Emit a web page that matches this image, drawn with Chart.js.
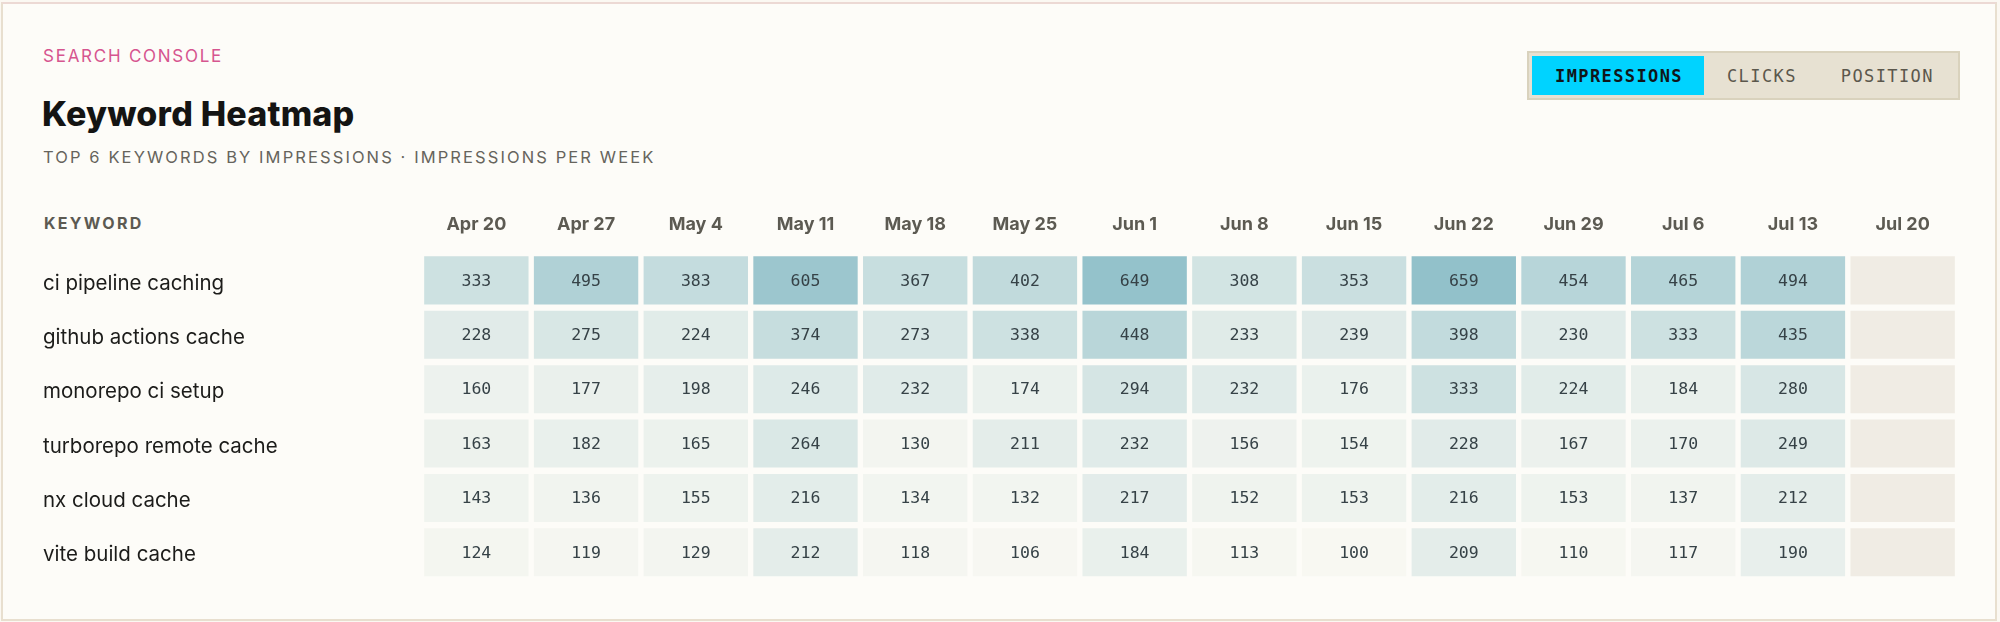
<!DOCTYPE html>
<html>
<head>
<meta charset="utf-8">
<script src="https://cdn.jsdelivr.net/npm/chart.js@4.4.1/dist/chart.umd.min.js"></script>
<style>
    html, body {
        margin: 0;
        padding: 0;
        width: 2000px;
        height: 622px;
        background: #fbf8f2;
        overflow: hidden;
        font-family: Inter, 'Noto Sans', sans-serif;
    }
    .card {
        position: absolute;
        left: 1px;
        top: 2px;
        width: 1996px;
        height: 619px;
        box-sizing: border-box;
        background: #fdfcf8;
        border: 2px solid #e8dfcf;
        border-top-color: #ecd9d4;
    }
    /* children below are placed in page coords minus the card offset (3, 4) */
    .eyebrow {
        position: absolute;
        left: 40px;
        top: 44px;
        font-size: 17px;
        line-height: 17px;
        letter-spacing: 1.75px;
        color: #d6558f;
    }
    .title {
        position: absolute;
        left: 39px;
        top: 93px;
        font-size: 34px;
        line-height: 34px;
        font-weight: 800;
        letter-spacing: 0.2px;
        color: #141413;
    }
    .subtitle {
        position: absolute;
        left: 40px;
        top: 145px;
        font-size: 16.5px;
        line-height: 16.5px;
        letter-spacing: 2.1px;
        color: #66645c;
    }
    .col-head {
        position: absolute;
        left: 41px;
        top: 211px;
        font-size: 16px;
        line-height: 16px;
        font-weight: 700;
        letter-spacing: 2.3px;
        color: #5c5a52;
    }
    .toggle {
        position: absolute;
        left: 1524px;
        top: 47px;
        height: 49px;
        box-sizing: border-box;
        padding: 3px;
        display: flex;
        background: #e7e1d2;
        border: 2px solid #d9d2bd;
    }
    .toggle span {
        display: flex;
        align-items: center;
        height: 39px;
        padding: 0 21px 0 23px;
        font-family: 'DejaVu Sans Mono', monospace;
        font-size: 17px;
        letter-spacing: 1.4px;
        color: #5b574c;
    }
    .toggle span.active {
        background: #00d3ff;
        color: #10161a;
        font-weight: 700;
    }
    .chart-box {
        position: absolute;
        left: 0;
        top: 190px;
        width: 2000px;
        height: 400px;
    }
</style>
</head>
<body>
<div class="card">
    <div class="eyebrow">SEARCH CONSOLE</div>
    <div class="title">Keyword Heatmap</div>
    <div class="subtitle">TOP 6 KEYWORDS BY IMPRESSIONS · IMPRESSIONS PER WEEK</div>
    <div class="col-head">KEYWORD</div>
    <div class="toggle">
        <span class="active">IMPRESSIONS</span>
        <span>CLICKS</span>
        <span>POSITION</span>
    </div>
</div>
<div class="chart-box"><canvas id="heatmap"></canvas></div>

<script>
// Week columns (Jul 20 has no data yet)
const weeks = ['Apr 20', 'Apr 27', 'May 4', 'May 11', 'May 18', 'May 25', 'Jun 1',
    'Jun 8', 'Jun 15', 'Jun 22', 'Jun 29', 'Jul 6', 'Jul 13', 'Jul 20'];

const keywords = ['ci pipeline caching', 'github actions cache', 'monorepo ci setup',
    'turborepo remote cache', 'nx cloud cache', 'vite build cache'];

// Impressions per week, one array per keyword
const ciPipelineCaching = [333, 495, 383, 605, 367, 402, 649, 308, 353, 659, 454, 465, 494, null];
const githubActionsCache = [228, 275, 224, 374, 273, 338, 448, 233, 239, 398, 230, 333, 435, null];
const monorepoCiSetup = [160, 177, 198, 246, 232, 174, 294, 232, 176, 333, 224, 184, 280, null];
const turborepoRemoteCache = [163, 182, 165, 264, 130, 211, 232, 156, 154, 228, 167, 170, 249, null];
const nxCloudCache = [143, 136, 155, 216, 134, 132, 217, 152, 153, 216, 153, 137, 212, null];
const viteBuildCache = [124, 119, 129, 212, 118, 106, 184, 113, 100, 209, 110, 117, 190, null];

const series = [ciPipelineCaching, githubActionsCache, monorepoCiSetup,
    turborepoRemoteCache, nxCloudCache, viteBuildCache];

// Color ramp: pale cream -> muted teal
const LOW = [248, 248, 242];
const HIGH = [146, 193, 202];
const EMPTY = '#f0ece4';

const allValues = series.flat().filter(v => v !== null);
const minVal = Math.min(...allValues);
const maxVal = Math.max(...allValues);

function cellColor(v) {
    if (v === null) return EMPTY;
    const t = (v - minVal) / (maxVal - minVal);
    const c = LOW.map((lo, i) => Math.round(lo + (HIGH[i] - lo) * t));
    return `rgb(${c[0]}, ${c[1]}, ${c[2]})`;
}

// Each keyword is a dataset; each cell is a floating bar spanning its row
const datasets = keywords.map((name, row) => ({
    label: name,
    data: weeks.map(() => [row, row + 1]),
    values: series[row],
    backgroundColor: series[row].map(cellColor),
    borderColor: 'rgba(0,0,0,0)',
    borderWidth: { top: 3.5, bottom: 3.5, left: 3, right: 3 },
    borderSkipped: false,
    grouped: false,
    barPercentage: 1,
    categoryPercentage: 1
}));

// Writes the number in the middle of each cell
const cellLabels = {
    id: 'cellLabels',
    afterDatasetsDraw(chart) {
        const ctx = chart.ctx;
        ctx.save();
        ctx.font = '16.5px "DejaVu Sans Mono", monospace';
        ctx.textAlign = 'center';
        ctx.textBaseline = 'middle';
        ctx.fillStyle = '#364247';
        chart.data.datasets.forEach((ds, di) => {
            const meta = chart.getDatasetMeta(di);
            meta.data.forEach((bar, i) => {
                const v = ds.values[i];
                if (v === null) return;
                const p = bar.getCenterPoint();
                ctx.fillText(String(v), p.x, p.y + 1);
            });
        });
        ctx.restore();
    }
};

new Chart(document.getElementById('heatmap'), {
    type: 'bar',
    data: { labels: weeks, datasets },
    options: {
        responsive: true,
        maintainAspectRatio: false,
        animation: false,
        events: [],
        layout: { padding: { left: 43, right: 42.5, top: 0, bottom: 10.5 } },
        plugins: {
            legend: { display: false },
            tooltip: { enabled: false }
        },
        scales: {
            x: {
                type: 'category',
                position: 'top',
                grid: { display: false },
                border: { display: false },
                ticks: {
                    padding: 10,
                    maxRotation: 0,
                    autoSkip: false,
                    color: '#5c5a52',
                    font: { family: 'Inter', size: 18, weight: '700' }
                },
                afterFit(scale) { scale.height = 63.2; }
            },
            y: {
                type: 'linear',
                min: 0,
                max: keywords.length,
                reverse: true,
                grid: { display: false },
                border: { display: false },
                afterBuildTicks(scale) {
                    scale.ticks = keywords.map((k, i) => ({ value: i + 0.5 }));
                },
                ticks: {
                    crossAlign: 'far',
                    autoSkip: false,
                    labelOffset: 3,
                    color: '#1c1c1a',
                    font: { family: 'Inter', size: 20.5 },
                    callback: (value, index) => keywords[index]
                },
                afterFit(scale) {
                    scale.width = 378.5;
                    scale.paddingTop = 0;
                    scale.paddingBottom = 0;
                }
            }
        }
    },
    plugins: [cellLabels]
});
</script>
</body>
</html>
